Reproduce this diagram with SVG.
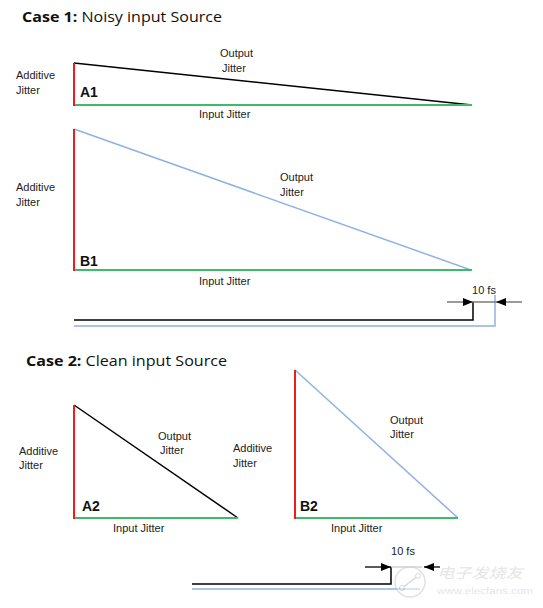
<svg xmlns="http://www.w3.org/2000/svg" width="543" height="608" viewBox="0 0 543 608">
<style>
.t{font-family:"Liberation Sans",Arial,sans-serif;font-size:11px;fill:#222}
.lb{font-family:"Liberation Sans",Arial,sans-serif;font-size:14px;font-weight:bold;fill:#111}
.ti{font-family:"Open Sans","Noto Sans",sans-serif;font-size:15px;fill:#111}
.b{font-weight:bold}
.red{stroke:#f01c1c;stroke-width:2;fill:none}
.grn{stroke:#3dba6a;stroke-width:2;fill:none}
.blk{stroke:#000;stroke-width:1.5;fill:none}
.blu{stroke:#8eb3e2;stroke-width:1.5;fill:none}
.gry{stroke:#7a7a7a;stroke-width:1.5;fill:none}
</style>
<defs>
<marker id="ah" viewBox="0 0 10 8" refX="10" refY="4" markerWidth="10" markerHeight="8" markerUnits="userSpaceOnUse" orient="auto">
<path d="M0,0 L10,4 L0,8 Z" fill="#000"/>
</marker>
</defs>
<rect width="543" height="608" fill="#fff"/>
<g id="title1">
<text class="ti" x="22" y="22" textLength="200" lengthAdjust="spacingAndGlyphs"><tspan class="b">Case 1:</tspan> Noisy input Source</text>
</g>
<g id="A1">
<line class="blk" x1="74" y1="63" x2="472" y2="105"/>
<line class="grn" x1="74" y1="105" x2="472" y2="105"/>
<line class="red" x1="74" y1="63" x2="74" y2="106"/>
<text class="lb" x="80" y="97">A1</text>
<text class="t" x="16" y="79">Additive</text>
<text class="t" x="16" y="94">Jitter</text>
<text class="t" x="220" y="57">Output</text>
<text class="t" x="222" y="72">Jitter</text>
<text class="t" x="199" y="118">Input Jitter</text>
</g>
<g id="B1">
<line class="blu" x1="74" y1="129" x2="471" y2="270"/>
<line class="grn" x1="74" y1="270" x2="472" y2="270"/>
<line class="red" x1="74" y1="129" x2="74" y2="271"/>
<text class="lb" x="80" y="266">B1</text>
<text class="t" x="16" y="191">Additive</text>
<text class="t" x="16" y="206">Jitter</text>
<text class="t" x="280" y="181">Output</text>
<text class="t" x="280" y="196">Jitter</text>
<text class="t" x="199" y="285">Input Jitter</text>
</g>
<g id="title2">
<text class="ti" x="26" y="366" textLength="201" lengthAdjust="spacingAndGlyphs"><tspan class="b">Case 2:</tspan> Clean input Source</text>
</g>
<g id="A2">
<line class="blk" x1="74" y1="405" x2="238" y2="518"/>
<line class="grn" x1="74" y1="518" x2="238" y2="518"/>
<line class="red" x1="74" y1="405" x2="74" y2="519"/>
<text class="lb" x="82" y="511">A2</text>
<text class="t" x="19" y="455">Additive</text>
<text class="t" x="19" y="469">Jitter</text>
<text class="t" x="158" y="440">Output</text>
<text class="t" x="160" y="454">Jitter</text>
<text class="t" x="113" y="532">Input Jitter</text>
</g>
<g id="B2">
<line class="blu" x1="295" y1="370" x2="458" y2="518"/>
<line class="grn" x1="295" y1="518" x2="458" y2="518"/>
<line class="red" x1="295" y1="370" x2="295" y2="519"/>
<text class="lb" x="300" y="511">B2</text>
<text class="t" x="233" y="452">Additive</text>
<text class="t" x="233" y="467">Jitter</text>
<text class="t" x="390" y="424">Output</text>
<text class="t" x="390" y="438">Jitter</text>
<text class="t" x="331" y="532">Input Jitter</text>
</g>
<g id="connectors">
<polyline class="blk" points="74,320 473,320 473,302"/>
<polyline class="blu" points="74,326 495,326 495,295"/>
<line class="gry" x1="447" y1="302" x2="522" y2="302"/>
<line x1="462" y1="302" x2="473" y2="302" stroke="none" marker-end="url(#ah)"/>
<line x1="507" y1="302" x2="496" y2="302" stroke="none" marker-end="url(#ah)"/>
<text class="t" x="484" y="294" text-anchor="middle">10 fs</text>
<polyline class="blk" points="192,584 391,584 391,567"/>
<line class="blu" x1="192" y1="589" x2="420" y2="589"/>
<line stroke="#000" stroke-width="1.3" x1="365" y1="567" x2="391" y2="567" marker-end="url(#ah)"/>
<line stroke="#bbb" stroke-width="1" x1="391" y1="567" x2="422" y2="567"/>
<line stroke="#000" stroke-width="1.3" x1="440" y1="567" x2="424" y2="567" marker-end="url(#ah)"/>
<text class="t" x="403" y="555" text-anchor="middle">10 fs</text>
</g>
<g id="watermark" opacity="0.55">
<circle cx="410" cy="582" r="15" fill="#fff" stroke="#ccc" stroke-width="1.5"/>
<line x1="402" y1="588" x2="418" y2="576" stroke="#bbb" stroke-width="1.5"/>
<circle cx="402" cy="588" r="2.5" fill="#fff" stroke="#bbb"/>
<circle cx="418" cy="576" r="2.5" fill="#fff" stroke="#bbb"/>
<text x="437" y="578" font-family="'Noto Sans CJK SC',sans-serif" font-size="14" font-style="italic" fill="#d0d0d0" textLength="86" lengthAdjust="spacingAndGlyphs">电子发烧友</text>
<text x="437" y="594" font-family="'Liberation Sans',Arial,sans-serif" font-size="9" fill="#d0d0d0" textLength="96" lengthAdjust="spacingAndGlyphs">www.elecfans.com</text>
</g>
</svg>
